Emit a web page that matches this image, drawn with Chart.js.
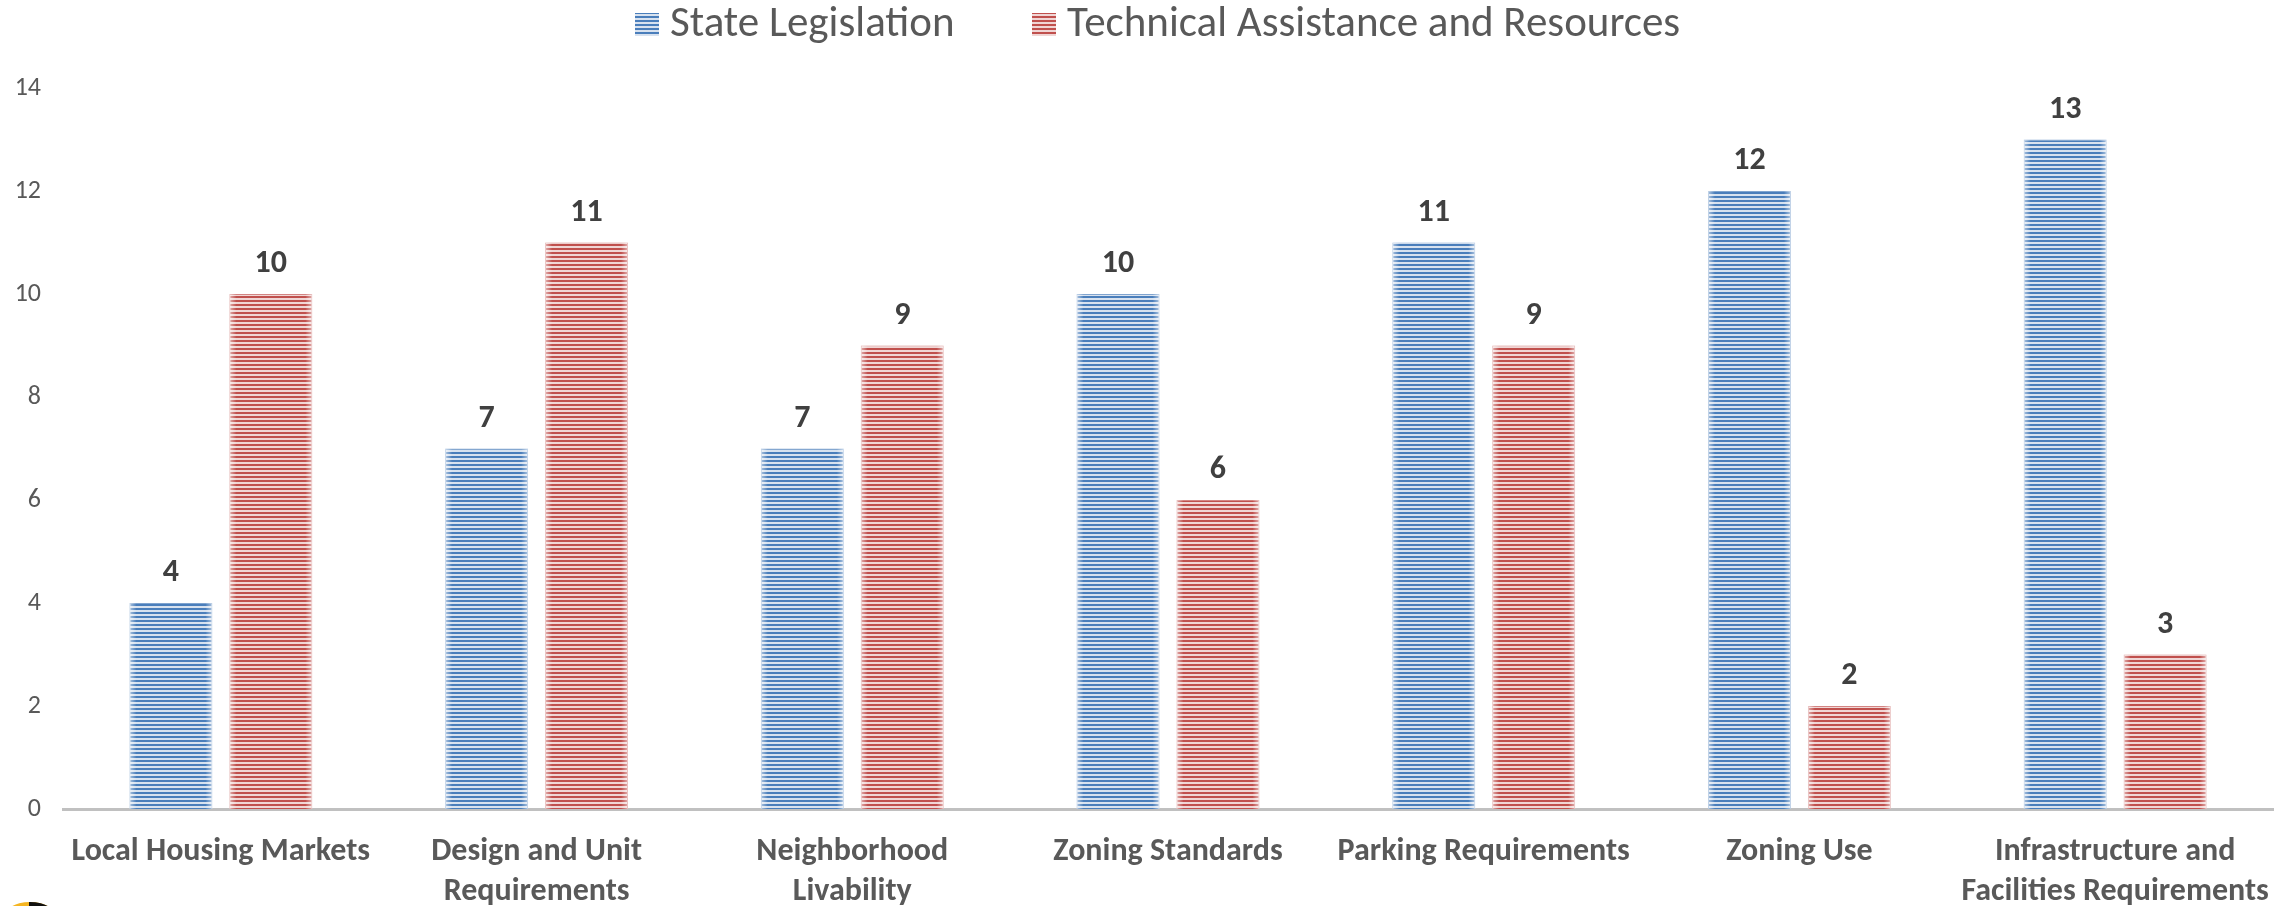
<!DOCTYPE html>
<html>
<head>
<meta charset="utf-8">
<script src="https://cdn.jsdelivr.net/npm/chart.js@4/dist/chart.umd.min.js"></script>
<style>
  html, body { margin: 0; padding: 0; background: #fff; }
  #wrap { width: 2293px; height: 906px; position: relative; }
</style>
</head>
<body>
<div id="wrap"><canvas id="chart" width="2293" height="906"></canvas></div>
<script>
// ===== データ =====
var categories = [
  "Local Housing Markets",
  ["Design and Unit", "Requirements"],
  ["Neighborhood", "Livability"],
  "Zoning Standards",
  "Parking Requirements",
  "Zoning Use",
  ["Infrastructure and", "Facilities Requirements"]
];
var stateLegislation = [4, 7, 7, 10, 11, 12, 13];
var technicalAssistance = [10, 11, 9, 6, 9, 2, 3];
var yTicks = [0, 2, 4, 6, 8, 10, 12, 14];

var FONT = "Carlito, Lato, 'Open Sans', sans-serif";
var GREY = "#595959";

// 横ストライプのパターン
function stripes(dark, light) {
  var c = document.createElement("canvas");
  c.width = 8; c.height = 4;
  var g = c.getContext("2d");
  g.fillStyle = light; g.fillRect(0, 0, 8, 4);
  g.fillStyle = dark; g.fillRect(0, 0, 8, 2);
  return g.createPattern(c, "repeat");
}
var bluePat = stripes("#4a7ebb", "#d8e2ef");
var redPat = stripes("#c0504d", "#f0d6d5");

// 棒の左右を少し明るく + 数値ラベル
var barDecor = {
  id: "barDecor",
  afterDatasetsDraw: function (chart) {
    var ctx = chart.ctx;
    chart.data.datasets.forEach(function (ds, i) {
      var meta = chart.getDatasetMeta(i);
      meta.data.forEach(function (bar, j) {
        var left = bar.x - bar.width / 2, right = bar.x + bar.width / 2;
        var h = bar.base - bar.y;
        var gl = ctx.createLinearGradient(left, 0, left + 7, 0);
        gl.addColorStop(0, "rgba(255,255,255,0.55)");
        gl.addColorStop(1, "rgba(255,255,255,0)");
        ctx.fillStyle = gl; ctx.fillRect(left, bar.y, 7, h);
        var gr = ctx.createLinearGradient(right - 7, 0, right, 0);
        gr.addColorStop(0, "rgba(255,255,255,0)");
        gr.addColorStop(1, "rgba(255,255,255,0.55)");
        ctx.fillStyle = gr; ctx.fillRect(right - 7, bar.y, 7, h);

        ctx.save();
        ctx.fillStyle = "#404040";
        ctx.font = "bold 32px " + FONT;
        ctx.textAlign = "center";
        ctx.textBaseline = "middle";
        ctx.fillText(String(ds.data[j]), bar.x, bar.y - 30);
        ctx.restore();
      });
    });
  }
};

// 凡例（自前で描画）
var topLegend = {
  id: "topLegend",
  afterDraw: function (chart) {
    var ctx = chart.ctx;
    var items = [
      { ds: chart.data.datasets[0], box: 635, text: 670 },
      { ds: chart.data.datasets[1], box: 1032, text: 1067 },
    ];
    ctx.save();
    items.forEach(function (it) {
      ctx.fillStyle = it.ds.backgroundColor;
      ctx.fillRect(it.box, 13, 24, 23);
      ctx.fillStyle = GREY;
      ctx.font = "43px " + FONT;
      ctx.textAlign = "left";
      ctx.textBaseline = "middle";
      ctx.fillText(it.ds.label, it.text, 25);
    });
    ctx.restore();
  }
};

// 左下のロゴの切れ端
var logoBit = {
  id: "logoBit",
  afterDraw: function (chart) {
    var ctx = chart.ctx;
    ctx.save();
    ctx.beginPath(); ctx.rect(0, 901, 60, 5); ctx.clip();
    ctx.fillStyle = "#f5b521";
    ctx.beginPath(); ctx.ellipse(30, 920, 28, 18, 0, 0, Math.PI * 2); ctx.fill();
    ctx.fillStyle = "#111";
    ctx.beginPath(); ctx.rect(29, 900, 30, 8); ctx.clip();
    ctx.beginPath(); ctx.ellipse(30, 920, 28, 18, 0, 0, Math.PI * 2); ctx.fill();
    ctx.restore();
  }
};

new Chart(document.getElementById("chart"), {
  type: "bar",
  data: {
    labels: categories,
    datasets: [
      {
        label: "State Legislation",
        data: stateLegislation,
        backgroundColor: bluePat,
        borderColor: "rgba(74,126,187,0.7)",
        borderWidth: 1,
        categoryPercentage: 0.633,
        barPercentage: 0.83,
      },
      {
        label: "Technical Assistance and Resources",
        data: technicalAssistance,
        backgroundColor: redPat,
        borderColor: "rgba(192,80,77,0.7)",
        borderWidth: 1,
        categoryPercentage: 0.633,
        barPercentage: 0.83,
      },
    ],
  },
  options: {
    responsive: false,
    animation: false,
    layout: { padding: { left: 0, right: 20, top: 88, bottom: 0 } },
    plugins: {
      tooltip: { enabled: false },
      legend: { display: false },
    },
    scales: {
      x: {
        grid: { display: false },
        border: { color: "#c0c0c0", width: 3 },
        ticks: {
          color: GREY,
          font: { family: FONT, size: 32, weight: "bold", lineHeight: 1.25 },
          maxRotation: 0,
          autoSkip: false,
          padding: 15,
        },
        afterFit: function (s) { s.height = 97; },
      },
      y: {
        min: 0, max: 14,
        grid: { display: false },
        border: { display: false },
        afterBuildTicks: function (s) { s.ticks = yTicks.map(function (v) { return { value: v }; }); },
        ticks: {
          color: GREY,
          font: { family: FONT, size: 26 },
          padding: 14,
        },
        afterFit: function (s) { s.width = 63; },
      },
    },
  },
  plugins: [barDecor, topLegend, logoBit],
});
</script>
</body>
</html>
